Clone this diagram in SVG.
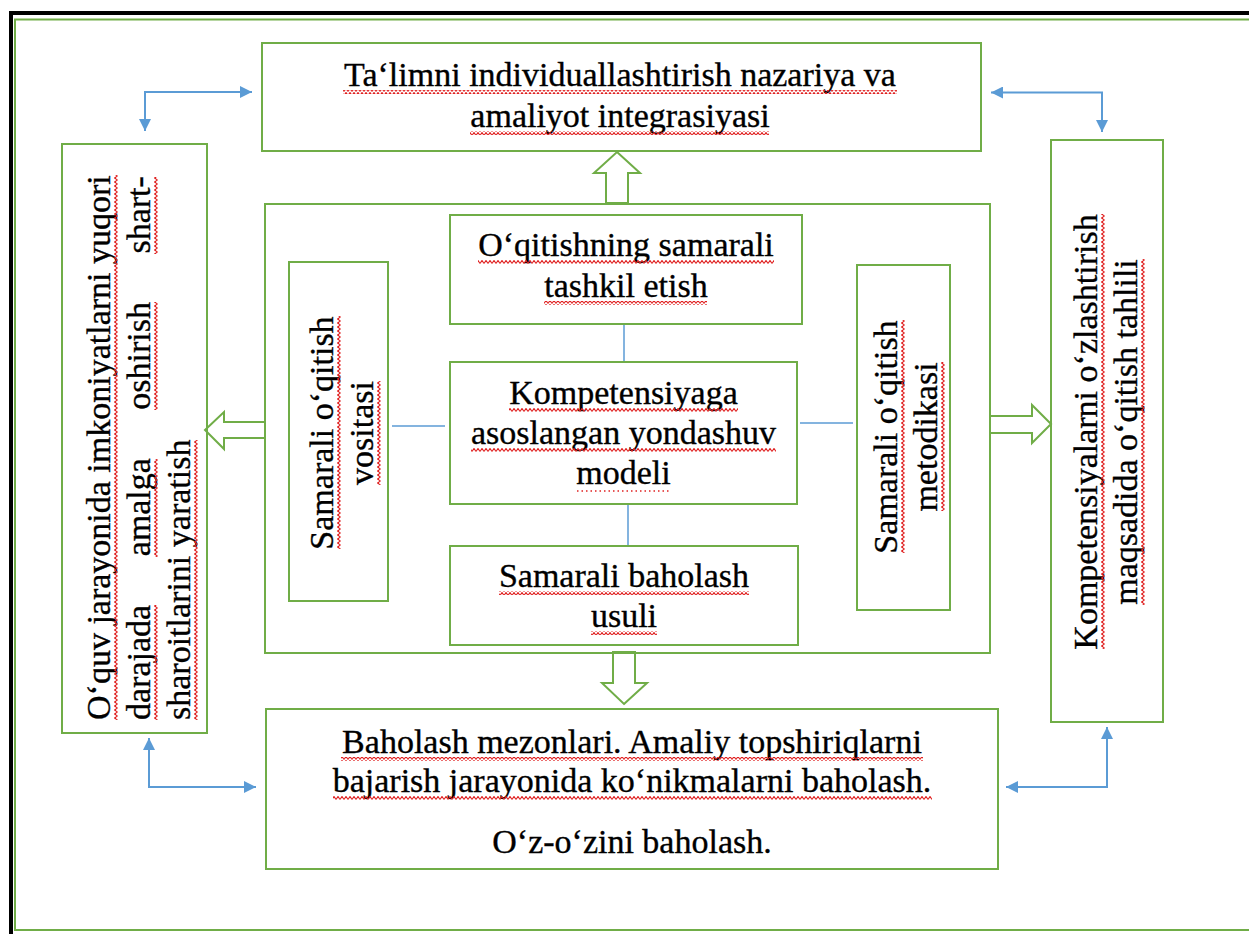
<svg xmlns="http://www.w3.org/2000/svg" width="1249" height="934" viewBox="0 0 1249 934">
<style>
.box{fill:none;stroke:#70AD47;stroke-width:2}
.harrow{fill:#fff;stroke:#70AD47;stroke-width:2;stroke-linejoin:miter}
.t{font-family:"Liberation Serif","Times New Roman","DejaVu Serif",serif;font-size:34px;fill:#000;stroke:#000;stroke-width:0.35}
.m{text-anchor:middle}
.w{fill:url(#wave)}
.blue{fill:none;stroke:#5B9BD5;stroke-width:2}
.thin{fill:none;stroke:#5B9BD5;stroke-width:1.5}
.dot{stroke:#e02020;stroke-width:1.5;stroke-dasharray:1.5 3;fill:none}
</style>
<defs>
<pattern id="wave" width="4" height="4" patternUnits="userSpaceOnUse">
<path d="M0,3.5 L2,0.5 L4,3.5" fill="none" stroke="#e02020" stroke-width="1.1"/>
</pattern>
<marker id="ah" viewBox="0 0 10 10" refX="10" refY="5" markerWidth="6" markerHeight="6" orient="auto-start-reverse" markerUnits="strokeWidth">
<path d="M0,0 L10,5 L0,10 z" fill="#5B9BD5"/>
</marker>
</defs>
<rect width="1249" height="934" fill="#fff"/>
<g id="frame">
<rect x="9" y="11" width="1240" height="4" fill="#000"/>
<rect x="9" y="11" width="4" height="923" fill="#000"/>
<path d="M1249,19.5 H15 V930 H1249" fill="none" stroke="#70AD47" stroke-width="2"/>
</g>

<g id="connectors">
<path class="blue" d="M252,92 H145 V131" marker-start="url(#ah)" marker-end="url(#ah)"/>
<path class="blue" d="M991,92.5 H1102 V132" marker-start="url(#ah)" marker-end="url(#ah)"/>
<path class="blue" d="M149,738 V787 H256" marker-start="url(#ah)" marker-end="url(#ah)"/>
<path class="blue" d="M1107,727 V787 H1006" marker-start="url(#ah)" marker-end="url(#ah)"/>
<line class="thin" x1="624" y1="324" x2="624" y2="362"/>
<line class="thin" x1="628" y1="504" x2="628" y2="546"/>
<line class="thin" x1="392" y1="426" x2="445" y2="426"/>
<line class="thin" x1="800" y1="423" x2="853" y2="423"/>
<polygon class="harrow" points="617,152 640,173 628,173 628,203 606,203 606,173 594,173"/>
<polygon class="harrow" points="205,430 224,412 224,422 265,422 265,438 224,438 224,449"/>
<polygon class="harrow" points="1051,424 1032,405 1032,416 990,416 990,433 1032,433 1032,443"/>
<polygon class="harrow" points="624,704 647,683 635,683 635,652 613,652 613,683 602,683"/>
</g>

<g id="top">
<rect class="box" x="262" y="43" width="719" height="108"/>
<text class="t m" x="620" y="86">Ta‘limni individuallashtirish nazariya va</text>
<rect class="w" x="343" y="90" width="554" height="4"/>
<text class="t m" x="620" y="127">amaliyot integrasiyasi</text>
<rect class="w" x="470" y="131" width="299" height="4"/>
</g>

<g id="left">
<rect class="box" x="62" y="144" width="145" height="589"/>
<g transform="translate(110,720) rotate(-90)">
<text class="t" x="0" y="0">O‘quv jarayonida imkoniyatlarni yuqori</text>
<rect class="w" x="0" y="4" width="545" height="4"/>
</g>
<g transform="translate(150,720) rotate(-90)">
<text class="t" x="0" y="0" word-spacing="40">darajada amalga oshirish shart-</text>
<rect class="w" x="0" y="4" width="115" height="4"/>
<rect class="w" x="163" y="4" width="98" height="4"/>
<rect class="w" x="310" y="4" width="108" height="4"/>
<rect class="w" x="466" y="4" width="77" height="4"/>
</g>
<g transform="translate(190,720) rotate(-90)">
<text class="t" x="0" y="0">sharoitlarini yaratish</text>
<rect class="w" x="0" y="4" width="280" height="4"/>
</g>
</g>

<g id="right">
<rect class="box" x="1051" y="140" width="112" height="582"/>
<g transform="translate(1097,432) rotate(-90)">
<text class="t m" x="0" y="0">Kompetensiyalarni o‘zlashtirish</text>
<rect class="w" x="-217" y="4" width="435" height="4"/>
</g>
<g transform="translate(1137,432) rotate(-90)">
<text class="t m" x="0" y="0">maqsadida o‘qitish tahlili</text>
<rect class="w" x="-173" y="4" width="346" height="4"/>
</g>
</g>

<g id="center-frame">
<rect class="box" x="265" y="204" width="725" height="449"/>
</g>

<g id="inner-top">
<rect class="box" x="450" y="215" width="352" height="109"/>
<text class="t m" x="626" y="256">O‘qitishning samarali</text>
<rect class="w" x="478" y="260" width="296" height="4"/>
<text class="t m" x="626" y="297">tashkil etish</text>
<rect class="w" x="544" y="301" width="163" height="4"/>
</g>

<g id="inner-left">
<rect class="box" x="289" y="262" width="99" height="339"/>
<g transform="translate(333,433) rotate(-90)">
<text class="t m" x="0" y="0">Samarali o‘qitish</text>
<rect class="w" x="-116" y="4" width="233" height="4"/>
</g>
<g transform="translate(373,433) rotate(-90)">
<text class="t m" x="0" y="0">vositasi</text>
<rect class="w" x="-52" y="4" width="104" height="4"/>
</g>
</g>

<g id="inner-right">
<rect class="box" x="857" y="265" width="93" height="345"/>
<g transform="translate(897,437) rotate(-90)">
<text class="t m" x="0" y="0">Samarali o‘qitish</text>
<rect class="w" x="-116" y="4" width="233" height="4"/>
</g>
<g transform="translate(937,437) rotate(-90)">
<text class="t m" x="0" y="0">metodikasi</text>
<rect class="w" x="-74" y="4" width="149" height="4"/>
</g>
</g>

<g id="core">
<rect class="box" x="450" y="362" width="347" height="142"/>
<text class="t m" x="623.5" y="404">Kompetensiyaga</text>
<rect class="w" x="509" y="408" width="229" height="4"/>
<text class="t m" x="623.5" y="444">asoslangan yondashuv</text>
<rect class="w" x="471" y="448" width="305" height="4"/>
<text class="t m" x="623.5" y="484">modeli</text>
<line class="dot" x1="577" y1="491" x2="670" y2="491"/>
</g>

<g id="inner-bottom">
<rect class="box" x="450" y="546" width="348" height="99"/>
<text class="t m" x="624" y="587">Samarali baholash</text>
<rect class="w" x="499" y="591" width="250" height="4"/>
<text class="t m" x="624" y="627">usuli</text>
<rect class="w" x="591" y="631" width="66" height="4"/>
</g>

<g id="bottom">
<rect class="box" x="266" y="709" width="732" height="160"/>
<text class="t m" x="632" y="753">Baholash mezonlari. Amaliy topshiriqlarni</text>
<rect class="w" x="341" y="757" width="582" height="4"/>
<text class="t m" x="632" y="792">bajarish jarayonida ko‘nikmalarni baholash.</text>
<rect class="w" x="333" y="796" width="599" height="4"/>
<text class="t m" x="632" y="853">O‘z-o‘zini baholash.</text>
</g>
</svg>
